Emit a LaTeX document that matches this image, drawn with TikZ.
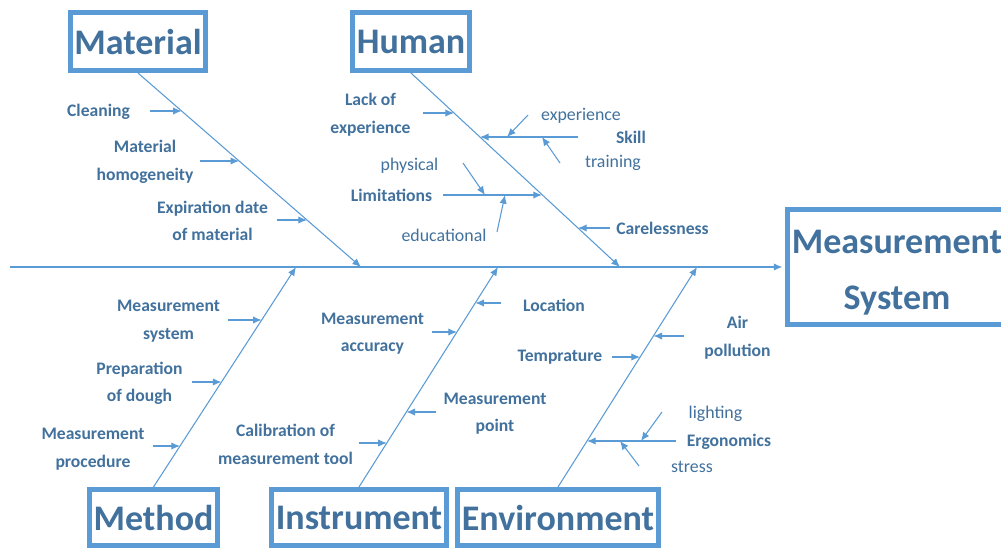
\documentclass[tikz,border=0pt]{standalone}
\usepackage{fontspec}
\setmainfont{Carlito}
\usetikzlibrary{arrows.meta}

\definecolor{bone}{HTML}{5B9BD5}
\definecolor{ink}{HTML}{41719C}

\begin{document}
\begin{tikzpicture}[x=0.75pt,y=-0.75pt,>={Latex[length=6.5pt,width=5.5pt]},
	line/.style={color=bone,line width=0.8pt},
	head/.style={draw=bone,line width=3.8pt,fill=white,inner sep=0pt,
		minimum height=43.5pt,text=ink,align=center,
		font=\fontsize{27}{42}\selectfont\bfseries},
	cause/.style={text=ink,align=center,inner sep=0pt,
		font=\fontsize{13.2}{20.6}\selectfont\bfseries},
	sub/.style={text=ink,inner sep=0pt,font=\fontsize{13.4}{16}\selectfont}]
\useasboundingbox (0,0) rectangle (1001,550);

% heads
\node[head,minimum width=101.25pt] (mat) at (138,41.5) {Material};
\node[head,minimum width=87.75pt] (hum) at (411,41.5) {Human};
\node[head,minimum width=96pt,minimum height=42pt] (met) at (153.5,517.5) {Method};
\node[head,minimum width=131.25pt,minimum height=42pt] (ins) at (359,517.5) {Instrument};
\node[head,minimum width=150.75pt,minimum height=42pt] (env) at (558,517.5) {Environment};
\node[head,minimum width=164.6pt,minimum height=86.25pt] (ms) at (897.25,267) {};
\node[head,draw=none,fill=none,minimum height=0pt] (ms-text) at (897,272.5)
	{Measurement\\System};

% spine and bones
\coordinate (tail) at (10,267);
\coordinate (mat-h) at (361,267);
\coordinate (hum-h) at (620,267);
\coordinate (met-h) at (296,267);
\coordinate (ins-h) at (498,267);
\coordinate (env-h) at (697,267);

\draw[line,->,shorten >=1.9pt] (tail) -- (ms.west);
\draw[line,->] (mat.south) -- (mat-h);
\draw[line,->] (hum.south) -- (hum-h);
\draw[line,->] (met.north) -- (met-h);
\draw[line,->] (ins.north) -- (ins-h);
\draw[line,->] (env.north) -- (env-h);

% causes hitting the bones
\foreach \n/\a/\b/\y in {clean/150/181.7/111, homog/200/239.2/161,
		expir/277/307/220, lack/423/454/113, skill/578/480/137,
		limit/443/542/195, care/610/578/228, msys/228/261.7/320,
		prep/192/221.5/382, proc/153/180/446, acc/432/457/332,
		calib/359/386.8/443, loc/501/475.3/303, mpt/436/406.4/412,
		temp/612/640/357, air/684/653.4/336, ergo/676/587/441}{
	\coordinate (\n-a) at (\a,\y);
	\coordinate (\n-b) at (\b,\y);
	\draw[line,->] (\n-a) -- (\n-b);
}
% sub causes
\foreach \n/\xa/\ya/\xb/\yb in {exper/528/115/507/137, train/560/163/542/137,
		phys/463/163/485/195, edu/497/232/505/195,
		light/662/412/641/441, stress/639/466/620/441}{
	\coordinate (\n-a) at (\xa,\ya);
	\coordinate (\n-b) at (\xb,\yb);
	\draw[line,->] (\n-a) -- (\n-b);
}

% Material
\node[cause] (clean) at (98.5,112) {Cleaning};
\node[cause] (homog) at (145,162) {Material\\homogeneity};
\node[cause] (expir) at (212.5,221) {Expiration date\\of material};
% Human
\node[cause] (lack) at (370.5,114.5) {Lack of\\experience};
\node[cause] (skill) at (631,137) {Skill};
\node[sub] (exper) at (581,116) {experience};
\node[sub] (train) at (613,163) {training};
\node[cause] (limit) at (391.5,195) {Limitations};
\node[sub] (phys) at (409.5,166) {physical};
\node[sub] (edu) at (444,235) {educational};
\node[cause] (care) at (662.5,228) {Carelessness};
% Method
\node[cause] (msys) at (168.5,321) {Measurement\\system};
\node[cause] (prep) at (139.5,383.5) {Preparation\\of dough};
\node[cause] (proc) at (93,449) {Measurement\\procedure};
% Instrument
\node[cause] (acc) at (372.5,333.5) {Measurement\\accuracy};
\node[cause] (calib) at (285.5,444.5) {Calibration of\\measurement tool};
\node[cause] (loc) at (554,305) {Location};
\node[cause] (mpt) at (495,413.5) {Measurement\\point};
% Environment
\node[cause] (temp) at (560,357) {Temprature};
\node[cause] (air) at (737.5,337.5) {Air\\pollution};
\node[cause] (ergo) at (729,442) {Ergonomics};
\node[sub] (light) at (715.5,414) {lighting};
\node[sub] (stress) at (692,466.5) {stress};

\end{tikzpicture}
\end{document}
